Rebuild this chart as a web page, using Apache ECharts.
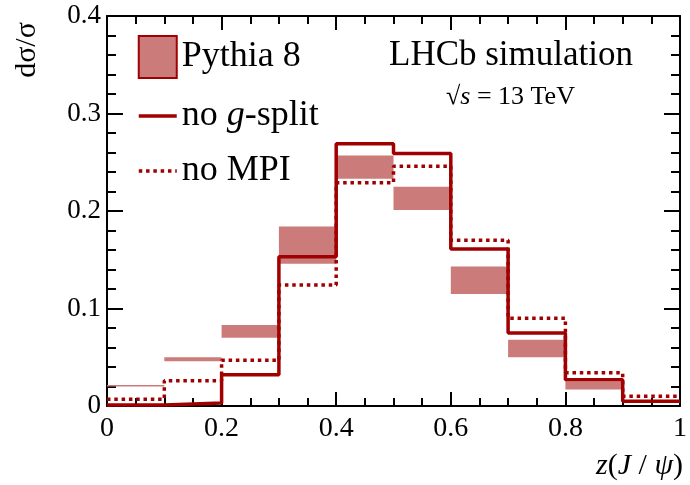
<!DOCTYPE html>
<html>
<head>
<meta charset="utf-8">
<script src="https://cdn.jsdelivr.net/npm/echarts@6/dist/echarts.min.js"></script>
<style>html,body{margin:0;padding:0;background:#fff;}#c{width:690px;height:485px;}</style>
</head>
<body>
<div id="c"></div>
<script>
// Bin edges of z(J/psi)
const binEdges = [0, 0.1, 0.2, 0.3, 0.4, 0.5, 0.6, 0.7, 0.8, 0.9, 1.0];
// Pythia 8 band (lower / upper edge per bin)
const pythiaLow  = [0.0200, 0.046, 0.070, 0.146, 0.233, 0.201, 0.115, 0.050, 0.017, 0.004];
const pythiaHigh = [0.0215, 0.050, 0.083, 0.184, 0.257, 0.225, 0.143, 0.068, 0.025, 0.006];
// no g-split (solid)
const noGsplit = [0.001, 0.003, 0.032, 0.153, 0.269, 0.259, 0.161, 0.075, 0.027, 0.005];
// no MPI (dotted)
const noMPI = [0.007, 0.026, 0.047, 0.124, 0.229, 0.246, 0.170, 0.090, 0.034, 0.010];
// Tick labels
const xTicks = [0, 0.2, 0.4, 0.6, 0.8, 1];
const yTicks = [0, 0.1, 0.2, 0.3, 0.4];

const dark = '#a00000';
const band = '#cc7b7b';
const serif = '"Liberation Serif", "DejaVu Serif", serif';
const clear = 'rgba(0,0,0,0)';

function stepData(vals) {
  const d = vals.map((v, i) => [binEdges[i], v]);
  d.push([binEdges[binEdges.length - 1], vals[vals.length - 1]]);
  return d;
}
const bandData = pythiaLow.map((lo, i) => [binEdges[i], binEdges[i + 1], lo, pythiaHigh[i]]);

function fmt(v) {
  const r = Math.round(v * 10) / 10;
  if (r === 0) return '0';
  if (r === 1) return '1';
  return r.toFixed(1);
}

const axisCommon = {
  axisLine: { show: true, onZero: false, lineStyle: { color: '#000', width: 2 } },
  splitLine: { show: false }
};
const dotted = [3.5, 3.8];

const chart = echarts.init(document.getElementById('c'), null, { renderer: 'canvas' });
chart.setOption({
  animation: false,
  grid: { left: 107, right: 8, top: 16, bottom: 79 },
  xAxis: [
    Object.assign({}, axisCommon, {
      type: 'value', position: 'bottom', min: xTicks[0], max: xTicks[xTicks.length - 1], interval: 0.2,
      axisTick: { inside: true, length: 14, lineStyle: { color: '#000', width: 2 } },
      minorTick: { show: true, splitNumber: 4, length: 8, lineStyle: { color: '#000', width: 2 } },
      axisLabel: { formatter: fmt, fontFamily: serif, fontSize: 28, color: '#000', margin: 9 }
    }),
    Object.assign({}, axisCommon, {
      type: 'value', position: 'top', min: xTicks[0], max: xTicks[xTicks.length - 1], interval: 0.2,
      axisTick: { inside: true, length: 14, lineStyle: { color: '#000', width: 2 } },
      minorTick: { show: true, splitNumber: 4, length: 8, lineStyle: { color: '#000', width: 2 } },
      axisLabel: { show: false }
    })
  ],
  yAxis: [
    Object.assign({}, axisCommon, {
      type: 'value', position: 'left', min: yTicks[0], max: yTicks[yTicks.length - 1], interval: 0.1,
      axisTick: { inside: true, length: 16, lineStyle: { color: '#000', width: 2 } },
      minorTick: { show: true, splitNumber: 5, length: 9, lineStyle: { color: '#000', width: 2 } },
      axisLabel: { formatter: fmt, fontFamily: serif, fontSize: 27, color: '#000', margin: 6, padding: [5, 0, 0, 0] }
    }),
    Object.assign({}, axisCommon, {
      type: 'value', position: 'right', min: yTicks[0], max: yTicks[yTicks.length - 1], interval: 0.1,
      axisTick: { inside: true, length: 16, lineStyle: { color: '#000', width: 2 } },
      minorTick: { show: true, splitNumber: 5, length: 9, lineStyle: { color: '#000', width: 2 } },
      axisLabel: { show: false }
    })
  ],
  legend: {
    orient: 'vertical', left: 137, top: 35,
    itemWidth: 38, itemHeight: 42, itemGap: 19,
    padding: 0,
    textStyle: {
      fontFamily: serif, fontSize: 36, color: '#000',
      rich: { i: { fontFamily: serif, fontSize: 36, fontStyle: 'italic', color: '#000' } }
    },
    formatter: function (name) { return name === 'no g-split' ? 'no {i|g}-split' : name; },
    data: [
      { name: 'Pythia 8', icon: 'rect', itemStyle: { color: band, borderColor: dark, borderWidth: 2 } },
      { name: 'no g-split', itemStyle: { color: clear, borderColor: clear, borderWidth: 0 },
        lineStyle: { color: dark, width: 3.5, type: 'solid' } },
      { name: 'no MPI', itemStyle: { color: clear, borderColor: clear, borderWidth: 0 },
        lineStyle: { color: dark, width: 3.5, type: dotted } }
    ]
  },
  series: [
    {
      name: 'Pythia 8', type: 'custom', xAxisIndex: 0, yAxisIndex: 0, z: 1,
      itemStyle: { color: band, borderColor: dark, borderWidth: 2 },
      encode: { x: [0, 1], y: [2, 3] },
      data: bandData,
      renderItem: function (params, api) {
        const p0 = api.coord([api.value(0), api.value(3)]);
        const p1 = api.coord([api.value(1), api.value(2)]);
        return {
          type: 'rect',
          shape: { x: p0[0], y: p0[1], width: p1[0] - p0[0], height: Math.max(1.5, p1[1] - p0[1]) },
          style: { fill: band }
        };
      }
    },
    {
      name: 'no MPI', type: 'line', step: 'end', xAxisIndex: 0, yAxisIndex: 0, z: 3,
      symbol: 'none', showSymbol: false,
      color: dark,
      lineStyle: { color: dark, width: 3.5, type: dotted, cap: 'butt' },
      data: stepData(noMPI)
    },
    {
      name: 'no g-split', type: 'line', step: 'end', xAxisIndex: 0, yAxisIndex: 0, z: 4,
      symbol: 'none', showSymbol: false,
      color: dark,
      lineStyle: { color: dark, width: 3.5, type: 'solid' },
      data: stepData(noGsplit)
    }
  ],
  graphic: [
    {
      type: 'text', left: 389, top: 38,
      style: { text: 'LHCb simulation', fontFamily: serif, fontSize: 35, fill: '#000' }
    },
    {
      type: 'text', left: 446, top: 84,
      style: {
        text: '√{i|s} = 13 TeV', fontFamily: serif, fontSize: 26, fill: '#000',
        rich: { i: { fontFamily: serif, fontSize: 26, fontStyle: 'italic', fill: '#000' } }
      }
    },
    {
      type: 'text', x: 27, y: 50, rotation: Math.PI / 2,
      style: { text: 'dσ/σ', fontFamily: serif, fontSize: 30, fill: '#000', align: 'center', verticalAlign: 'middle' }
    },
    {
      type: 'text', x: 683, y: 466,
      style: {
        text: '{i|z}({i|J} / {i|ψ})', fontFamily: serif, fontSize: 30, fill: '#000',
        align: 'right', verticalAlign: 'middle',
        rich: { i: { fontFamily: serif, fontSize: 30, fontStyle: 'italic', fill: '#000' } }
      }
    }
  ]
});
</script>
</body>
</html>
